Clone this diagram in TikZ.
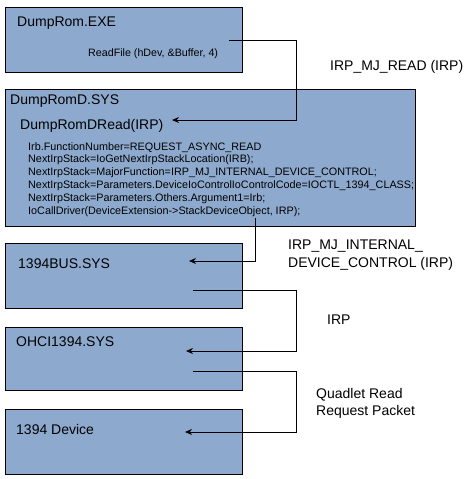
\documentclass[tikz,border=0pt]{standalone}
\usepackage{fontspec}
\setmainfont{Liberation Sans}
\usetikzlibrary{arrows.meta}
\definecolor{boxblue}{RGB}{141,170,206}
\begin{document}
\begin{tikzpicture}[x=1pt,y=-1pt,
  box/.style={draw=black, line width=0.8pt, fill=boxblue, anchor=north west, inner sep=0pt},
  lbl/.style={anchor=base west, inner sep=0pt, font=\fontsize{14}{17}\selectfont},
  code/.style={anchor=base west, inner sep=0pt, font=\fontsize{10.8}{12.8}\selectfont},
  conn/.style={draw=black, line width=0.8pt},
  arr/.style={conn, -{Stealth[length=7pt,width=6pt]}}]
\useasboundingbox (0,0) rectangle (470,479);
\fill[white] (0,0) rectangle (470,479);
% boxes
\node[box, minimum width=237pt, minimum height=65pt] (b1) at (5,7) {};
\node[box, minimum width=410pt, minimum height=137pt] (b2) at (5,89) {};
\node[box, minimum width=237pt, minimum height=65pt] (b3) at (5,243) {};
\node[box, minimum width=237pt, minimum height=63pt] (b4) at (5,327) {};
\node[box, minimum width=237pt, minimum height=65pt] (b5) at (5,409) {};
% box texts
\node[lbl] (t1) at (17,27) {DumpRom.EXE};
\node[lbl, font=\fontsize{10.7}{13}\selectfont] (rf) at (88,56) {ReadFile (hDev, \&Buffer, 4)};
\node[lbl] (t2) at (10,104.5) {DumpRomD.SYS};
\node[lbl] (rd) at (20,129) {DumpRomDRead(IRP)};
\node[code] (c1) at (28,150) {Irb.FunctionNumber=REQUEST\_ASYNC\_READ};
\node[code] (c2) at (28,162.8) {NextIrpStack=IoGetNextIrpStackLocation(IRB);};
\node[code] (c3) at (28,175.6) {NextIrpStack=MajorFunction=IRP\_MJ\_INTERNAL\_DEVICE\_CONTROL;};
\node[code] (c4) at (28,188.4) {NextIrpStack=Parameters.DeviceIoControlIoControlCode=IOCTL\_1394\_CLASS;};
\node[code] (c5) at (28,201.2) {NextIrpStack=Parameters.Others.Argument1=Irb;};
\node[code] (c6) at (28,214) {IoCallDriver(DeviceExtension->StackDeviceObject, IRP);};
\node[lbl] (t3) at (18,268.3) {1394BUS.SYS};
\node[lbl] (t4) at (16,346.7) {OHCI1394.SYS};
\node[lbl] (t5) at (16,434) {1394 Device};
% side labels
\node[lbl] (l1) at (330,70) {IRP\_MJ\_READ (IRP)};
\node[lbl] (l2a) at (288,249.3) {IRP\_MJ\_INTERNAL\_};
\node[lbl] (l2b) at (288,267.3) {DEVICE\_CONTROL (IRP)};
\node[lbl] (l3) at (327,324.3) {IRP};
\node[lbl] (l4a) at (316,398.3) {Quadlet Read};
\node[lbl] (l4b) at (316,415) {Request Packet};
% connector points
\coordinate (s1) at (229,40);
\coordinate (k1) at (296,120);
\coordinate (e1) at (172,120);
\coordinate (s2) at (255,218);
\coordinate (e2) at (189,261);
\coordinate (s3) at (193,290);
\coordinate (k3) at (296,351);
\coordinate (e3) at (186,351);
\coordinate (s4) at (193,371);
\coordinate (k4) at (296,432);
\coordinate (e4) at (185,432);
% connectors
\draw[arr] (s1) -| (k1) -- (e1);
\draw[arr] (s2) |- (e2);
\draw[arr] (s3) -| (k3) -- (e3);
\draw[arr] (s4) -| (k4) -- (e4);
\end{tikzpicture}
\end{document}
